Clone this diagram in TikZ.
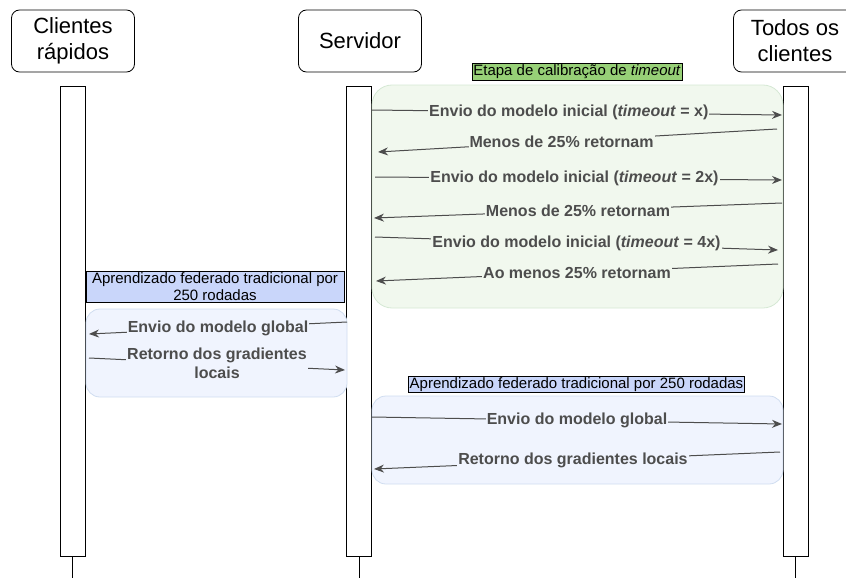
\documentclass[tikz,border=0pt]{standalone}
\usepackage{fontspec}
\setmainfont{Liberation Sans}
\usetikzlibrary{arrows.meta}
\definecolor{msg}{HTML}{4D4D4D}
\definecolor{greenlab}{HTML}{97D077}
\definecolor{greenfill}{HTML}{F1F8EE}
\definecolor{greenline}{HTML}{D5E8D4}
\definecolor{bluelab}{HTML}{C9D6FA}
\definecolor{bluefill}{HTML}{F0F4FE}
\definecolor{blueline}{HTML}{D0DDF0}
\tikzset{
  actor/.style={draw=black, rounded corners=8pt, minimum width=123pt, minimum height=62pt, align=center, font=\fontsize{22}{26}\selectfont, line width=0.8pt},
  lifebox/.style={draw=black, fill=white, minimum width=25pt, minimum height=470pt, line width=0.8pt},
  tail/.style={draw=black, line width=0.8pt},
  greenarea/.style={draw=greenline, fill=greenfill, rounded corners=20pt, line width=0.8pt},
  bluearea/.style={draw=blueline, fill=bluefill, rounded corners=14pt, line width=0.8pt},
  grouplab/.style={draw=black, inner sep=1.2pt, font=\fontsize{15}{17.5}\selectfont, align=center},
  msgline/.style={draw=msg, line width=1pt, -{Stealth[length=10pt,width=8pt]}},
  msglab/.style={font=\fontsize{16}{19}\selectfont\bfseries, text=msg, inner sep=1pt, align=center},
}
\begin{document}
\begin{tikzpicture}[x=1pt,y=-1pt]
\useasboundingbox (0,0) rectangle (846,578);
% actors
\node[actor] (a1) at (73,41) {Clientes\\rápidos};
\node[actor] (a2) at (360,41) {Servidor};
\node[actor] (a3) at (795,41) {Todos os\\clientes};
% lifelines
\node[lifebox] (l1) at (72.5,321) {};
\node[lifebox] (l2) at (359,321) {};
\node[lifebox] (l3) at (795.5,321) {};
\coordinate (e1) at (72.5,578);
\coordinate (e2) at (359,578);
\coordinate (e3) at (795.5,578);
\draw[tail] (l1.south) -- (e1);
\draw[tail] (l2.south) -- (e2);
\draw[tail] (l3.south) -- (e3);
% group areas
\draw[greenarea] (372,85) rectangle (783,308);
\draw[bluearea] (86,309) rectangle (347,397);
\draw[bluearea] (372,396) rectangle (783,484);
\node[grouplab, fill=greenlab] (g1) at (577,71.5) {Etapa de calibração de \textit{timeout}};
\node[grouplab, fill=bluelab, minimum width=258pt] (g2) at (215,286.5) {Aprendizado federado tradicional por\\250 rodadas};
\node[grouplab, fill=bluelab] (g3) at (576.5,384.5) {Aprendizado federado tradicional por 250 rodadas};
% message end points
\coordinate (s1) at (372,110); \coordinate (t1) at (782,115);
\coordinate (s2) at (777,129); \coordinate (t2) at (378,152);
\coordinate (s3) at (375,177); \coordinate (t3) at (782,180);
\coordinate (s4) at (782,203); \coordinate (t4) at (374,218);
\coordinate (s5) at (375,237); \coordinate (t5) at (778,250);
\coordinate (s6) at (778,264); \coordinate (t6) at (376,281);
\coordinate (s7) at (347,322); \coordinate (t7) at (89,334);
\coordinate (s8) at (89,358);  \coordinate (t8) at (345,370);
\coordinate (s9) at (372,417); \coordinate (t9) at (782,424);
\coordinate (s10) at (780,452); \coordinate (t10) at (374,469);
% messages
\draw[msgline] (s1) -- node[msglab, fill=greenfill, pos=0.48] (m1) {Envio do modelo inicial (\textit{timeout} = x)} (t1);
\draw[msgline] (s2) -- node[msglab, fill=greenfill, pos=0.54] (m2) {Menos de 25\% retornam} (t2);
\draw[msgline] (s3) -- node[msglab, fill=greenfill, pos=0.49] (m3) {Envio do modelo inicial (\textit{timeout} = 2x)} (t3);
\draw[msgline] (s4) -- node[msglab, fill=greenfill, pos=0.50] (m4) {Menos de 25\% retornam} (t4);
\draw[msgline] (s5) -- node[msglab, fill=greenfill, pos=0.50] (m5) {Envio do modelo inicial (\textit{timeout} = 4x)} (t5);
\draw[msgline] (s6) -- node[msglab, fill=greenfill, pos=0.50] (m6) {Ao menos 25\% retornam} (t6);
\draw[msgline] (s7) -- node[msglab, fill=bluefill, pos=0.50] (m7) {Envio do modelo global} (t7);
\draw[msgline] (s8) -- node[msglab, fill=bluefill, pos=0.50, yshift=1pt] (m8) {Retorno dos gradientes\\locais} (t8);
\draw[msgline] (s9) -- node[msglab, fill=bluefill, pos=0.50] (m9) {Envio do modelo global} (t9);
\draw[msgline] (s10) -- node[msglab, fill=bluefill, pos=0.51] (m10) {Retorno dos gradientes locais} (t10);
\end{tikzpicture}
\end{document}
